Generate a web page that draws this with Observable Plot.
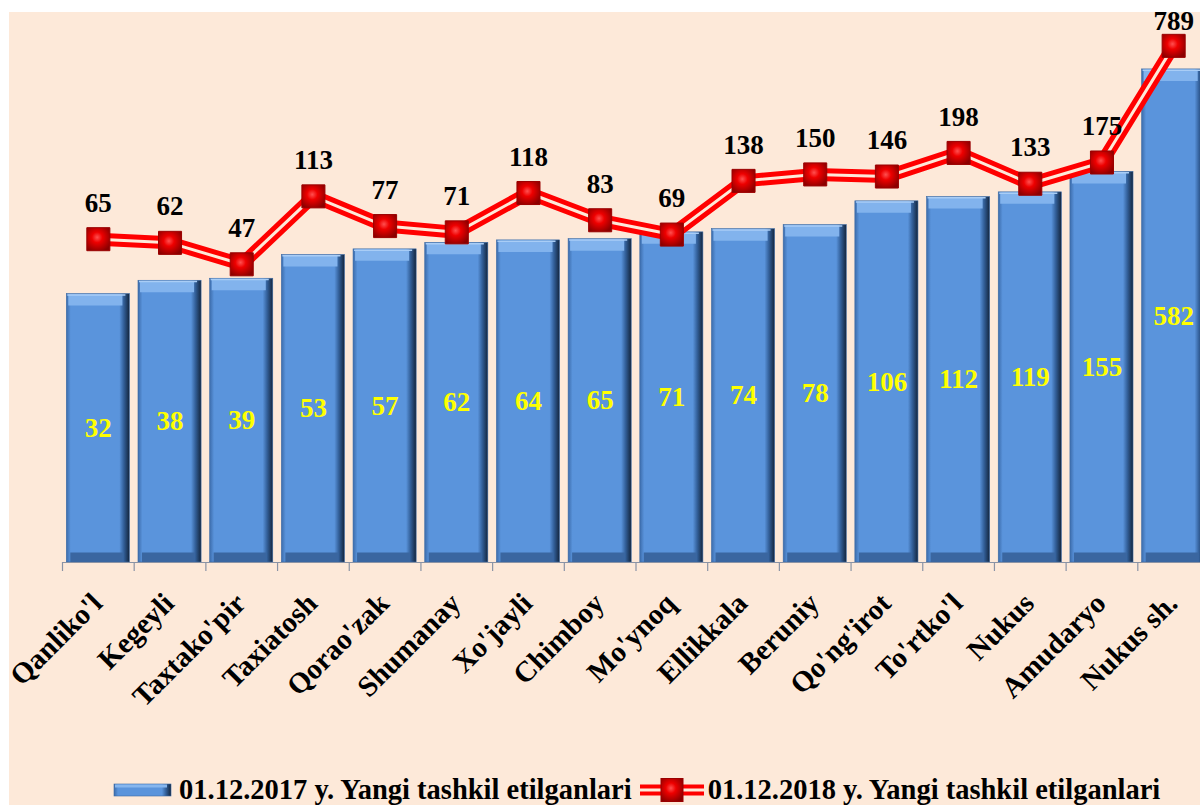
<!DOCTYPE html>
<html>
<head>
<meta charset="utf-8">
<script src="https://cdn.jsdelivr.net/npm/d3@7"></script>
<script src="https://cdn.jsdelivr.net/npm/@observablehq/plot@0.6"></script>
<style>
  html, body { margin: 0; padding: 0; background: #ffffff; width: 1200px; height: 805px; overflow: hidden; }
  #bg { position: absolute; left: 9px; top: 12px; right: 0; bottom: 0; background: #FDE9D9; }
  #chart { position: absolute; left: 0; top: 0; width: 1209px; }
  #legend { position: absolute; left: 113px; top: 774px; display: flex; align-items: center; white-space: nowrap;
    font-family: "Liberation Serif", "Times New Roman", serif; font-weight: bold; font-size: 28.5px; line-height: 32px; color: #000; }
  #legend svg { display: block; }
</style>
</head>
<body>
<div id="bg"></div>
<div id="chart"></div>
<div id="legend"></div>
<script>
const categories = ["Qanliko'l","Kegeyli","Taxtako'pir","Taxiatosh","Qorao'zak","Shumanay","Xo'jayli","Chimboy","Mo'ynoq","Ellikkala","Beruniy","Qo'ng'irot","To'rtko'l","Nukus","Amudaryo","Nukus sh."];
const values2017 = [32,38,39,53,57,62,64,65,71,74,78,106,112,119,155,582];
const values2018 = [65,62,47,113,77,71,118,83,69,138,150,146,198,133,175,789];
const seriesNames = ["01.12.2017 y. Yangi tashkil etilganlari", "01.12.2018 y. Yangi tashkil etilganlari"];

const data = categories.map((c, i) => ({cat: c, v17: values2017[i], v18: values2018[i]}));

const font = "'Liberation Serif', 'Times New Roman', serif";
const W = 1209, H = 760, mL = 62, mR = 0;
const step = (W - mL - mR) / categories.length;

const svg = Plot.plot({
  width: W,
  height: H,
  marginLeft: mL,
  marginRight: mR,
  marginTop: 27,
  marginBottom: 198,
  style: {background: "transparent", overflow: "visible", fontFamily: font, maxWidth: "none"},
  x: {type: "band", domain: categories, paddingInner: 0.12, paddingOuter: 0.06, round: false, axis: null, label: null},
  y: {type: "log", domain: [1, 1000], axis: null, label: null},
  marks: [
    // bars
    Plot.barY(data, {x: "cat", y1: d => 1, y2: "v17", fill: "url(#barGrad)", stroke: "#3b6aa5", strokeWidth: 0.6}),
    // top bevel
    Plot.tickY(data, {x: "cat", y: "v17", dy: 6, stroke: "#82b3ed", strokeWidth: 11, insetLeft: 2, insetRight: 7}),
    Plot.tickY(data, {x: "cat", y: "v17", dy: 0.8, stroke: "#a9cdf6", strokeWidth: 1.5, insetLeft: 1, insetRight: 4}),
    // bottom bevel
    Plot.tickY(data, {x: "cat", y: d => 1, dy: -5, stroke: "#3a66a0", strokeWidth: 10, insetLeft: 4, insetRight: 6}),
    // baseline and boundary ticks
    Plot.ruleY([1], {stroke: "#8a93a5", strokeWidth: 1.2}),
    Plot.axisX(categories, {tickSize: 9, tickFormat: () => "", label: null, dx: -step / 2, stroke: "#8a93a5", strokeWidth: 1.2}),
    // category labels
    Plot.axisX(categories, {tickSize: 0, tickPadding: 36, tickRotate: -45, dx: -1, label: null,
      fontSize: 29, fontWeight: "bold", fontFamily: font, fill: "#000"}),
    // bar value labels
    Plot.text(data, {x: "cat", y: d => Math.sqrt(d.v17), text: d => String(d.v17),
      fill: "#ffff00", fontSize: 27, fontWeight: "bold", fontFamily: font}),
    // 2018 line (double line)
    Plot.line(data, {x: "cat", y: "v18", stroke: "#ff0000", strokeWidth: 13, strokeLinejoin: "miter"}),
    Plot.line(data, {x: "cat", y: "v18", stroke: "#FDE9D9", strokeWidth: 3, strokeLinejoin: "miter"}),
    Plot.dot(data, {x: "cat", y: "v18", symbol: "square", r: 13, fill: "url(#mkGrad)", stroke: "#9a0000", strokeWidth: 1}),
    Plot.text(data, {filter: d => d.v18 < 500, x: "cat", y: "v18", text: d => String(d.v18), dy: -36,
      fill: "#000", fontSize: 27, fontWeight: "bold", fontFamily: font}),
    Plot.text(data, {filter: d => d.v18 >= 500, x: "cat", y: "v18", text: d => String(d.v18), dy: -24,
      fill: "#000", fontSize: 27, fontWeight: "bold", fontFamily: font})
  ]
});

function addDefs(target) {
  const defs = d3.select(target).insert("defs", ":first-child");
  const bg = defs.append("linearGradient").attr("id", "barGrad").attr("x1", 0).attr("x2", 1).attr("y1", 0).attr("y2", 0);
  [["0%", "#3c6cab"], ["7%", "#5a94dc"], ["84%", "#5a94dc"], ["91%", "#33609a"], ["100%", "#13253d"]]
    .forEach(([o, c]) => bg.append("stop").attr("offset", o).attr("stop-color", c));
  const mk = defs.append("radialGradient").attr("id", "mkGrad").attr("cx", "45%").attr("cy", "42%").attr("r", "65%");
  [["0%", "#ff5050"], ["35%", "#ee0000"], ["100%", "#8a0000"]]
    .forEach(([o, c]) => mk.append("stop").attr("offset", o).attr("stop-color", c));
}
addDefs(svg);
document.getElementById("chart").appendChild(svg);

// legend
const legend = d3.select("#legend");
const sw1 = legend.append("svg").attr("width", 60).attr("height", 16).style("margin-right", "6px");
addDefs(sw1.node());
sw1.append("rect").attr("x", 1).attr("y", 2).attr("width", 57).attr("height", 12).attr("fill", "url(#barGrad)").attr("stroke", "#3b6aa5").attr("stroke-width", 0.6);
sw1.append("rect").attr("x", 2).attr("y", 2.5).attr("width", 52).attr("height", 3).attr("fill", "#86b6ee");
legend.append("span").text(seriesNames[0]).style("margin-right", "8px");
const sw2 = legend.append("svg").attr("width", 64).attr("height", 26).style("margin-right", "4px");
addDefs(sw2.node());
sw2.append("line").attr("x1", 0).attr("x2", 64).attr("y1", 13).attr("y2", 13).attr("stroke", "#ff0000").attr("stroke-width", 11);
sw2.append("line").attr("x1", 0).attr("x2", 64).attr("y1", 13).attr("y2", 13).attr("stroke", "#FDE9D9").attr("stroke-width", 3);
sw2.append("rect").attr("x", 21).attr("y", 1.5).attr("width", 22).attr("height", 23).attr("fill", "url(#mkGrad)").attr("stroke", "#9a0000");
legend.append("span").text(seriesNames[1]);
</script>
</body>
</html>
